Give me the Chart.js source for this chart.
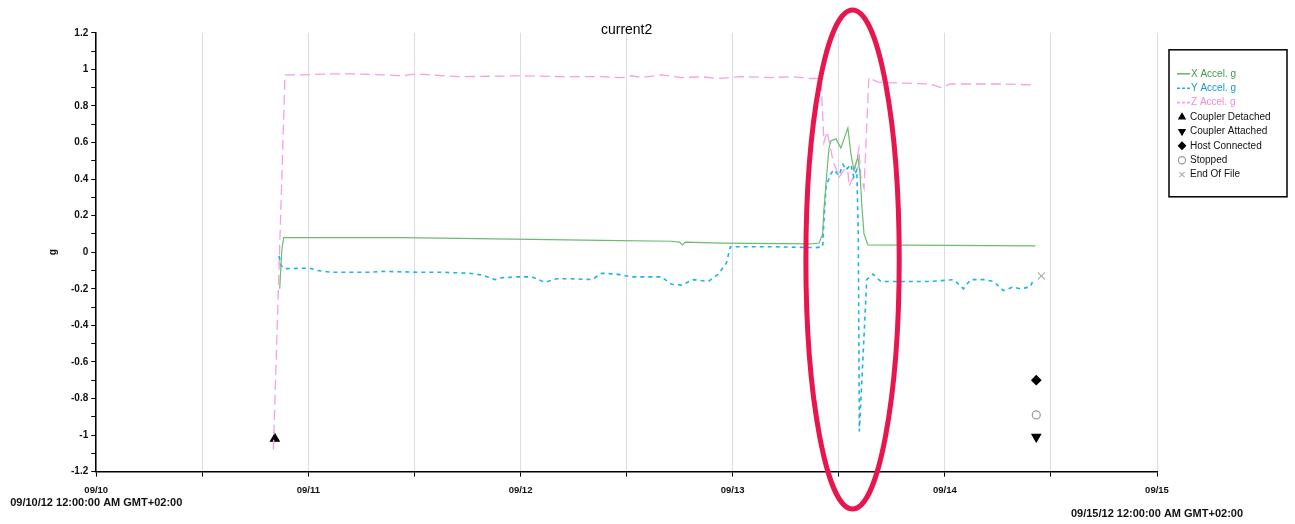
<!DOCTYPE html>
<html>
<head>
<meta charset="utf-8">
<script src="https://cdn.jsdelivr.net/npm/chart.js@4.4.1/dist/chart.umd.min.js"></script>
<style>
  html, body { margin: 0; padding: 0; background: #ffffff; }
  #wrap { width: 1295px; height: 524px; position: relative; }
</style>
</head>
<body>
<div id="wrap"><canvas id="c" width="1295" height="524"></canvas></div>
<script>
// ---------- data ----------
const chartTitle = 'current2';
const yAxisTitle = 'g';
const xTickLabels = ['09/10', '09/11', '09/12', '09/13', '09/14', '09/15'];
const xEdgeLabels = ['09/10/12 12:00:00 AM GMT+02:00', '09/15/12 12:00:00 AM GMT+02:00'];
const yTickLabels = ['-1.2', '-1', '-0.8', '-0.6', '-0.4', '-0.2', '0', '0.2', '0.4', '0.6', '0.8', '1', '1.2'];
const seriesNames = ['X Accel. g', 'Y Accel. g', 'Z Accel. g'];
const eventNames = ['Coupler Detached', 'Coupler Attached', 'Host Connected', 'Stopped', 'End Of File'];

// time in days since 09/10 12:00:00 AM
const xAccelDays = [0.865, 0.874, 0.883, 1.443, 2.054, 2.383, 2.711, 2.749, 2.763, 2.777, 2.946, 3.369, 3.407,
  3.424, 3.430, 3.445, 3.454, 3.463, 3.487, 3.510, 3.534, 3.543, 3.557, 3.571, 3.590, 3.600, 3.609, 3.619, 3.637, 4.427];
const xAccelG = [-0.20, 0.00, 0.08, 0.08, 0.07, 0.065, 0.06, 0.055, 0.04, 0.055, 0.05, 0.045, 0.05,
  0.10, 0.23, 0.45, 0.57, 0.61, 0.62, 0.57, 0.65, 0.68, 0.54, 0.45, 0.52, 0.43, 0.25, 0.10, 0.04, 0.035];

const yAccelDays = [0.862, 0.870, 0.885, 1.006, 1.043, 1.114, 1.288, 1.349, 1.537, 1.631, 1.758, 1.819, 1.880, 1.913,
  1.983, 2.054, 2.115, 2.171, 2.242, 2.336, 2.383, 2.453, 2.524, 2.664, 2.711, 2.758, 2.815, 2.885, 2.932, 2.970,
  2.989, 3.181, 3.393, 3.424, 3.430, 3.440, 3.463, 3.477, 3.501, 3.520, 3.534, 3.557, 3.571, 3.585, 3.592, 3.597,
  3.632, 3.661, 3.698, 3.792, 3.933, 4.041, 4.088, 4.121, 4.182, 4.229, 4.276, 4.323, 4.356, 4.403, 4.417];
const yAccelG = [-0.02, -0.07, -0.09, -0.087, -0.10, -0.11, -0.11, -0.105, -0.11, -0.11, -0.115, -0.125, -0.15, -0.14,
  -0.135, -0.135, -0.165, -0.145, -0.145, -0.15, -0.115, -0.12, -0.135, -0.135, -0.175, -0.18, -0.15, -0.16, -0.12, -0.06,
  0.03, 0.03, 0.025, 0.03, 0.17, 0.36, 0.43, 0.45, 0.42, 0.48, 0.45, 0.48, 0.41, 0.45, 0.10, -0.98,
  -0.15, -0.12, -0.16, -0.16, -0.16, -0.15, -0.20, -0.15, -0.15, -0.16, -0.21, -0.19, -0.20, -0.19, -0.15];

const zAccelDays = [0.835, 0.890, 0.973, 1.114, 1.208, 1.349, 1.443, 1.513, 1.631, 1.725, 2.007, 2.195, 2.383, 2.477,
  2.523, 2.570, 2.664, 2.758, 2.852, 2.923, 3.040, 3.181, 3.275, 3.369, 3.416, 3.430, 3.445, 3.473, 3.501, 3.524,
  3.543, 3.548, 3.571, 3.595, 3.604, 3.619, 3.642, 3.684, 3.792, 3.933, 3.980, 4.027, 4.262, 4.427];
const zAccelG = [-1.08, 0.97, 0.97, 0.975, 0.975, 0.97, 0.965, 0.975, 0.965, 0.96, 0.965, 0.96, 0.96, 0.955,
  0.965, 0.955, 0.97, 0.955, 0.96, 0.95, 0.96, 0.955, 0.96, 0.95, 0.95, 0.60, 0.66, 0.50, 0.41, 0.45,
  0.45, 0.36, 0.42, 0.57, 0.41, 0.35, 0.955, 0.93, 0.925, 0.92, 0.90, 0.92, 0.92, 0.915];

const eventDays = [0.842, 4.431, 4.431, 4.431, 4.455];
const eventG = [-1.02, -1.01, -0.70, -0.89, -0.13];

// highlighted region (data units): centre day, centre g, half-width in days, half-height in g
const highlightCenter = [3.565, -0.04];
const highlightHalfSize = [0.22, 1.365];

// ---------- helpers ----------
const pts = (xs, ys) => xs.map((x, i) => ({ x: x, y: ys[i] }));
const FONT = '"Liberation Sans", Arial, sans-serif';

const lineColors = ['#6dbb70', '#1eb2ea', '#f4a0e6'];
const lineText = ['#3f9a4e', '#1596d8', '#f08ad8'];

const eventStyles = [
  { pointStyle: 'triangle', rotation: 0, fill: '#000', stroke: '#000', radius: 5 },
  { pointStyle: 'triangle', rotation: 180, fill: '#000', stroke: '#000', radius: 5 },
  { pointStyle: 'rectRot', rotation: 0, fill: '#000', stroke: '#000', radius: 4.5 },
  { pointStyle: 'circle', rotation: 0, fill: 'rgba(255,255,255,0)', stroke: '#9a9a9a', radius: 4 },
  { pointStyle: 'crossRot', rotation: 0, fill: 'rgba(0,0,0,0)', stroke: '#b0b0b0', radius: 5 }
];

const datasets = [
  { label: seriesNames[0], data: pts(xAccelDays, xAccelG), borderColor: lineColors[0], borderWidth: 1.2,
    pointRadius: 0, tension: 0, fill: false },
  { label: seriesNames[1], data: pts(yAccelDays, yAccelG), borderColor: lineColors[1], borderWidth: 1.6,
    borderDash: [4, 4], pointRadius: 0, tension: 0, fill: false },
  { label: seriesNames[2], data: pts(zAccelDays, zAccelG), borderColor: lineColors[2], borderWidth: 1.3,
    borderDash: [10, 5], pointRadius: 0, tension: 0, fill: false }
];
eventNames.forEach((name, i) => {
  const st = eventStyles[i];
  datasets.push({
    label: name, data: [{ x: eventDays[i], y: eventG[i] }], showLine: false,
    pointStyle: st.pointStyle, rotation: st.rotation, pointRadius: st.radius,
    backgroundColor: st.fill, borderColor: st.stroke, pointBorderWidth: 1.2, isEvent: true
  });
});

// ---------- plugins ----------
const ellipsePlugin = {
  id: 'ellipseMark',
  afterDraw(chart) {
    const xs = chart.scales.x, ys = chart.scales.y, ctx = chart.ctx;
    const cx = xs.getPixelForValue(highlightCenter[0]);
    const cy = ys.getPixelForValue(highlightCenter[1]);
    const rx = Math.abs(xs.getPixelForValue(highlightCenter[0] + highlightHalfSize[0]) - cx);
    const ry = Math.abs(ys.getPixelForValue(highlightCenter[1] + highlightHalfSize[1]) - cy);
    ctx.save();
    ctx.beginPath();
    ctx.ellipse(cx, cy, rx, ry, 0, 0, Math.PI * 2);
    ctx.strokeStyle = '#e8164e';
    ctx.lineWidth = 5;
    ctx.stroke();
    ctx.restore();
  }
};

const edgeLabelPlugin = {
  id: 'edgeLabels',
  afterDraw(chart) {
    const xs = chart.scales.x, ctx = chart.ctx;
    ctx.save();
    ctx.font = 'bold 11px ' + FONT;
    ctx.fillStyle = '#111';
    ctx.textAlign = 'center';
    ctx.textBaseline = 'middle';
    const y = xs.top + 31;
    ctx.fillText(xEdgeLabels[0], xs.getPixelForValue(0), y);
    ctx.fillText(xEdgeLabels[1], xs.getPixelForValue(5), y + 11);
    ctx.restore();
  }
};

const legendPlugin = {
  id: 'boxLegend',
  afterDraw(chart) {
    const ctx = chart.ctx, area = chart.chartArea;
    const left = area.right + 12, top = area.top + 17, w = 118, h = 147;
    ctx.save();
    ctx.strokeStyle = '#000';
    ctx.lineWidth = 1.5;
    ctx.strokeRect(left, top, w, h);
    ctx.font = '10px ' + FONT;
    ctx.textBaseline = 'middle';
    ctx.textAlign = 'left';
    chart.data.datasets.forEach((ds, i) => {
      const y = top + 24 + i * 14.4;
      if (!ds.isEvent) {
        ctx.save();
        ctx.strokeStyle = ds.borderColor;
        ctx.lineWidth = 1.6;
        ctx.setLineDash(ds.borderDash ? [3, 2] : []);
        ctx.beginPath();
        ctx.moveTo(left + 8, y);
        ctx.lineTo(left + 21, y);
        ctx.stroke();
        ctx.restore();
        ctx.fillStyle = lineText[i];
        ctx.fillText(ds.label, left + 22, y);
      } else {
        ctx.save();
        ctx.fillStyle = ds.backgroundColor;
        ctx.strokeStyle = ds.borderColor;
        ctx.lineWidth = 1.2;
        Chart.helpers.drawPoint(ctx, { pointStyle: ds.pointStyle, rotation: ds.rotation, radius: 3.6, borderWidth: 1.2 }, left + 13, y);
        ctx.restore();
        ctx.fillStyle = '#111';
        ctx.fillText(ds.label, left + 21, y);
      }
    });
    ctx.restore();
  }
};

// ---------- chart ----------
new Chart(document.getElementById('c'), {
  type: 'line',
  data: { datasets: datasets },
  plugins: [ellipsePlugin, edgeLabelPlugin, legendPlugin],
  options: {
    responsive: false,
    animation: false,
    devicePixelRatio: 1,
    layout: { padding: { left: 0, right: 138, top: 0, bottom: 20 } },
    plugins: {
      legend: { display: false },
      tooltip: { enabled: false },
      title: {
        display: true, text: chartTitle, color: '#000', fullSize: false,
        font: { family: FONT, size: 14, weight: 'normal' },
        padding: { top: 22, bottom: -6 }
      }
    },
    scales: {
      x: {
        type: 'linear', min: 0, max: 5,
        border: { color: '#000', width: 1.5 },
        grid: { color: '#dcdce6', lineWidth: 1, tickColor: '#000', tickLength: 5, drawOnChartArea: true },
        ticks: {
          stepSize: 0.5, autoSkip: false, maxRotation: 0, padding: 8, color: '#111',
          font: { family: FONT, size: 9.5, weight: 'bold' },
          callback: (v) => {
            const h = Math.round(v * 2);
            return h % 2 === 0 ? xTickLabels[h / 2] : '';
          }
        }
      },
      y: {
        type: 'linear', min: -1.2, max: 1.2,
        border: { color: '#000', width: 1.5 },
        grid: { drawOnChartArea: false, tickColor: '#000', tickLength: 5 },
        title: {
          display: true, text: yAxisTitle, color: '#111',
          font: { family: FONT, size: 10, weight: 'bold' },
          padding: { top: 47, bottom: 9 }
        },
        ticks: {
          stepSize: 0.1, autoSkip: false, padding: 3, color: '#111',
          font: { family: FONT, size: 10, weight: 'bold' },
          callback: (v) => {
            const k = Math.round((v + 1.2) * 10);
            return k % 2 === 0 ? yTickLabels[k / 2] : '';
          }
        }
      }
    }
  }
});
</script>
</body>
</html>
